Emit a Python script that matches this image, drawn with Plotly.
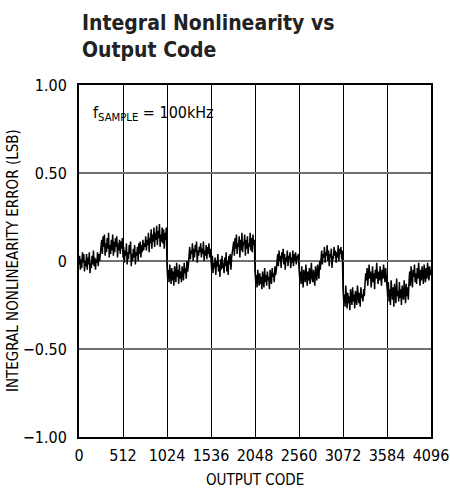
import plotly.graph_objects as go

# INL error (LSB), one value every 8 codes, grouped per 256-code segment
seg00 = [-0.02, 0.03, -0.05, 0.01, -0.04, 0.05, -0.01, 0.04, -0.06, 0.00, -0.03, 0.04, -0.05, 0.02, -0.02, 0.05,
         -0.07, -0.01, -0.04, 0.03, -0.02, 0.06, -0.03, 0.02, -0.05, 0.01, -0.01, 0.05, -0.03, 0.04, 0.00, 0.06]
seg01 = [0.06, 0.12, 0.04, 0.14, 0.08, 0.15, 0.03, 0.10, 0.05, 0.13, 0.07, 0.16, 0.02, 0.09, 0.04, 0.12,
         0.06, 0.15, 0.03, 0.11, 0.05, 0.13, 0.08, 0.14, 0.02, 0.10, 0.06, 0.12, 0.04, 0.11, 0.07, 0.13]
seg02 = [0.02, 0.08, -0.01, 0.06, 0.03, 0.10, -0.02, 0.05, 0.01, 0.09, 0.04, 0.11, -0.03, 0.04, 0.00, 0.07,
         0.02, 0.09, -0.02, 0.05, 0.03, 0.08, 0.00, 0.10, 0.04, 0.11, 0.02, 0.09, 0.05, 0.12, 0.06, 0.10]
seg03 = [0.08, 0.14, 0.06, 0.12, 0.09, 0.16, 0.05, 0.13, 0.10, 0.18, 0.07, 0.15, 0.11, 0.19, 0.08, 0.16,
         0.12, 0.20, 0.09, 0.17, 0.13, 0.21, 0.08, 0.15, 0.11, 0.19, 0.10, 0.18, 0.07, 0.16, 0.12, 0.19]
seg04 = [-0.03, -0.10, -0.05, -0.12, -0.02, -0.09, -0.13, -0.04, -0.11, -0.06, -0.14, -0.03, -0.08, -0.12, -0.01, -0.09,
         -0.05, -0.13, -0.02, -0.10, -0.06, -0.12, -0.03, -0.08, -0.11, -0.01, -0.07, -0.04, -0.10, 0.00, -0.06, -0.03]
seg05 = [0.03, 0.08, 0.01, 0.06, 0.04, 0.10, 0.00, 0.07, 0.02, 0.09, 0.05, 0.11, -0.01, 0.06, 0.03, 0.08,
         0.05, 0.10, 0.02, 0.07, 0.04, 0.11, 0.00, 0.06, 0.03, 0.09, 0.01, 0.08, 0.04, 0.10, 0.02, 0.07]
seg06 = [0.01, -0.05, 0.03, -0.07, -0.01, -0.04, 0.02, -0.08, 0.00, -0.03, 0.04, -0.06, -0.02, -0.09, 0.01, -0.05,
         0.03, -0.04, -0.01, -0.07, 0.02, -0.03, 0.05, -0.06, 0.00, -0.08, 0.03, -0.02, 0.04, -0.05, 0.02, 0.05]
seg07 = [0.05, 0.11, 0.03, 0.13, 0.07, 0.15, 0.04, 0.10, 0.08, 0.14, 0.02, 0.12, 0.06, 0.16, 0.05, 0.11,
         0.09, 0.15, 0.03, 0.12, 0.07, 0.14, 0.04, 0.10, 0.08, 0.16, 0.06, 0.13, 0.05, 0.15, 0.09, 0.12]
seg08 = [-0.06, -0.12, -0.08, -0.15, -0.05, -0.11, -0.14, -0.07, -0.13, -0.09, -0.16, -0.06, -0.10, -0.15, -0.04, -0.12,
         -0.08, -0.14, -0.06, -0.11, -0.09, -0.16, -0.05, -0.10, -0.13, -0.04, -0.09, -0.07, -0.12, -0.03, -0.08, -0.05]
seg09 = [-0.01, 0.04, -0.03, 0.06, 0.00, 0.03, -0.04, 0.05, 0.01, 0.07, -0.02, 0.04, -0.05, 0.02, 0.00, 0.06,
         -0.03, 0.03, 0.01, 0.05, -0.04, 0.02, -0.01, 0.06, -0.03, 0.04, 0.00, 0.05, -0.02, 0.03, 0.01, 0.04]
seg10 = [-0.04, -0.10, -0.06, -0.13, -0.03, -0.11, -0.15, -0.05, -0.09, -0.12, -0.02, -0.10, -0.14, -0.06, -0.11, -0.04,
         -0.13, -0.08, -0.01, -0.10, -0.12, -0.05, -0.09, -0.14, -0.03, -0.08, -0.11, -0.02, -0.07, -0.10, 0.00, -0.05]
seg11 = [0.01, 0.06, -0.02, 0.04, 0.02, 0.08, -0.01, 0.05, 0.03, 0.09, 0.00, 0.06, -0.03, 0.04, 0.02, 0.07,
         -0.04, 0.03, 0.01, 0.08, 0.03, 0.06, -0.01, 0.05, 0.02, 0.09, 0.00, 0.07, 0.04, 0.08, 0.01, 0.06]
seg12 = [-0.16, -0.23, -0.19, -0.26, -0.14, -0.22, -0.27, -0.18, -0.24, -0.20, -0.28, -0.16, -0.21, -0.25, -0.15, -0.23,
         -0.19, -0.27, -0.17, -0.22, -0.25, -0.14, -0.20, -0.24, -0.18, -0.26, -0.15, -0.21, -0.19, -0.23, -0.16, -0.20]
seg13 = [-0.13, -0.07, -0.11, -0.04, -0.14, -0.08, -0.02, -0.10, -0.06, -0.15, -0.09, -0.03, -0.12, -0.07, -0.16, -0.05,
         -0.10, -0.01, -0.08, -0.13, -0.06, -0.11, -0.03, -0.09, -0.14, -0.05, -0.10, -0.02, -0.07, -0.12, -0.04, -0.08]
seg14 = [-0.14, -0.20, -0.12, -0.23, -0.16, -0.25, -0.11, -0.19, -0.22, -0.15, -0.26, -0.13, -0.18, -0.24, -0.10, -0.20,
         -0.17, -0.23, -0.12, -0.21, -0.16, -0.25, -0.14, -0.19, -0.22, -0.11, -0.18, -0.24, -0.13, -0.20, -0.15, -0.22]
seg15 = [-0.12, -0.06, -0.14, -0.03, -0.10, -0.15, -0.05, -0.09, -0.02, -0.12, -0.07, -0.13, -0.04, -0.10, -0.01, -0.08,
         -0.14, -0.05, -0.11, -0.03, -0.09, -0.13, -0.02, -0.07, -0.12, -0.04, -0.10, -0.01, -0.06, -0.11, -0.03, -0.08]
last_value = [-0.05]

inl = (seg00 + seg01 + seg02 + seg03 + seg04 + seg05 + seg06 + seg07 +
       seg08 + seg09 + seg10 + seg11 + seg12 + seg13 + seg14 + seg15 + last_value)
codes = list(range(0, 4097, 8))

x_ticks = [0, 512, 1024, 1536, 2048, 2560, 3072, 3584, 4096]
x_ticktext = ["0", "512", "1024", "1536", "2048", "2560", "3072", "3584", "4096"]
y_ticks = [1.0, 0.5, 0.0, -0.5, -1.0]
y_ticktext = ["1.00", "0.50", "0", "\u22120.50", "\u22121.00"]

FONT = "DejaVu Sans Condensed, Liberation Sans Narrow, Roboto, sans-serif"

W, H = 450, 490
L, R, T, B = 79, 19, 85, 53
PW, PH = W - L - R, H - T - B


def px_x(px):
    return (px - L) / PW


def px_y(py):
    return (H - B - py) / PH


fig = go.Figure()
fig.add_trace(go.Scatter(x=codes, y=inl, mode="lines",
                         line=dict(color="black", width=1.5), hoverinfo="skip",
                         showlegend=False))

fig.update_layout(
    width=W, height=H,
    margin=dict(l=L, r=R, t=T, b=B, autoexpand=False),
    paper_bgcolor="white", plot_bgcolor="white",
    font=dict(family=FONT, color="black", size=16),
    annotations=[
        dict(text="<b>Integral Nonlinearity vs<br>Output Code</b>", x=px_x(80), y=px_y(9),
             xref="paper", yref="paper", xanchor="left", yanchor="top", align="left",
             showarrow=False, font=dict(family=FONT, size=21, color="#222")),
        dict(text="f<sub>SAMPLE</sub> = 100kHz", x=px_x(91), y=px_y(113),
             xref="paper", yref="paper", xanchor="left", yanchor="middle",
             showarrow=False, font=dict(family=FONT, size=16, color="black")),
        dict(text="OUTPUT CODE", x=px_x(255), y=px_y(480),
             xref="paper", yref="paper", xanchor="center", yanchor="middle",
             showarrow=False, font=dict(family=FONT, size=15, color="black")),
        dict(text="INTEGRAL NONLINEARITY ERROR (LSB)", x=px_x(13), y=px_y(261),
             xref="paper", yref="paper", xanchor="center", yanchor="middle", textangle=-90,
             showarrow=False, font=dict(family=FONT, size=15, color="black")),
    ],
)

fig.update_xaxes(range=[0, 4096], tickvals=x_ticks, ticktext=x_ticktext,
                 showgrid=True, gridcolor="black", gridwidth=1, automargin=False,
                 zeroline=False, showline=True, linecolor="black", linewidth=2, mirror=True,
                 ticks="", tickfont=dict(size=16), ticklabelstandoff=3)
fig.update_yaxes(range=[-1, 1], tickvals=y_ticks, ticktext=y_ticktext,
                 showgrid=True, gridcolor="#707070", gridwidth=1.5, automargin=False,
                 zeroline=False, showline=True, linecolor="black", linewidth=2, mirror=True,
                 ticks="", tickfont=dict(size=16), ticklabelstandoff=7)

fig.write_html("out.html", config={"displayModeBar": False, "staticPlot": True},
               post_script="document.body.style.margin='0';document.body.style.padding='0';")
